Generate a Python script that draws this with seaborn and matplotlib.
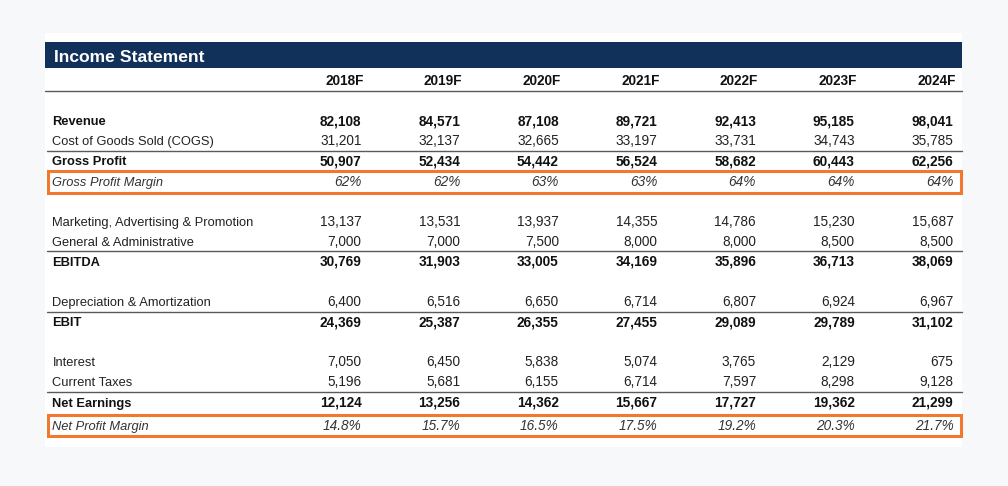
import numpy as np
import pandas as pd
import seaborn as sns
import matplotlib.pyplot as plt
from matplotlib.patches import Rectangle

# ============================================================
# 数据
# ============================================================
years = ["2018F", "2019F", "2020F", "2021F", "2022F", "2023F", "2024F"]

revenue = [82108, 84571, 87108, 89721, 92413, 95185, 98041]
cogs = [31201, 32137, 32665, 33197, 33731, 34743, 35785]
gross_profit = [50907, 52434, 54442, 56524, 58682, 60443, 62256]
gross_margin = [62, 62, 63, 63, 64, 64, 64]
marketing = [13137, 13531, 13937, 14355, 14786, 15230, 15687]
g_and_a = [7000, 7000, 7500, 8000, 8000, 8500, 8500]
ebitda = [30769, 31903, 33005, 34169, 35896, 36713, 38069]
d_and_a = [6400, 6516, 6650, 6714, 6807, 6924, 6967]
ebit = [24369, 25387, 26355, 27455, 29089, 29789, 31102]
interest = [7050, 6450, 5838, 5074, 3765, 2129, 675]
taxes = [5196, 5681, 6155, 6714, 7597, 8298, 9128]
net_earnings = [12124, 13256, 14362, 15667, 17727, 19362, 21299]
net_margin = [14.8, 15.7, 16.5, 17.5, 19.2, 20.3, 21.7]

# (行名, 数值, 样式, 上方是否画线);  None = 空行
rows = [
    ("Revenue", revenue, "bold", False),
    ("Cost of Goods Sold (COGS)", cogs, "normal", False),
    ("Gross Profit", gross_profit, "bold", True),
    ("Gross Profit Margin", gross_margin, "pct0", False),
    None,
    ("Marketing, Advertising & Promotion", marketing, "normal", False),
    ("General & Administrative", g_and_a, "normal", False),
    ("EBITDA", ebitda, "bold", True),
    None,
    ("Depreciation & Amortization", d_and_a, "normal", False),
    ("EBIT", ebit, "bold", True),
    None,
    ("Interest", interest, "normal", False),
    ("Current Taxes", taxes, "normal", False),
    ("Net Earnings", net_earnings, "bold", True),
    ("Net Profit Margin", net_margin, "pct1", False),
]

# ============================================================
# 样式 / 布局
# ============================================================
sns.set_theme(style="white")
plt.rcParams["font.family"] = ["Liberation Sans", "DejaVu Sans"]

BG = "#f7f8fa"
NAVY = "#11305a"
ORANGE = "#f0792f"
LINE = "#5a5a5a"
FS_LABEL = 9.3
FS_NUM = 9.8
BASE = 4.6  # 行中心 -> 文字基线 的偏移 (px)

CARD_L, CARD_R = 45, 962
LABEL_X = 52.5
COL_R0, COL_STEP = 361.5, 98.65
ROW_Y0, ROW_STEP = 120.5, 20.1


def col_x(i):
    return COL_R0 + COL_STEP * i


def fmt(v, style):
    if style == "pct0":
        return f"{v:.0f}%"
    if style == "pct1":
        return f"{v:.1f}%"
    return f"{v:,.0f}"


fig = plt.figure(figsize=(10.08, 4.86), dpi=100, facecolor=BG)
ax = fig.add_axes([0, 0, 1, 1])
ax.set_xlim(0, 1008)
ax.set_ylim(486, 0)
ax.set_facecolor(BG)
ax.axis("off")

# 白色卡片 + 标题栏
ax.add_patch(Rectangle((CARD_L, 33), CARD_R - CARD_L, 414, facecolor="white", edgecolor="none"))
ax.add_patch(Rectangle((CARD_L, 42), CARD_R - CARD_L, 26, facecolor=NAVY, edgecolor="none"))
ax.text(LABEL_X + 1, 62.5, "Income Statement", color="white", fontsize=12.6,
        fontweight="bold", va="baseline", ha="left")

# 年份表头
for i, yr in enumerate(years):
    ax.text(col_x(i) + 2, 80.5 + BASE, yr, fontsize=FS_NUM, fontweight="bold", ha="right",
            va="baseline", color="#111111")
ax.plot([CARD_L, CARD_R], [90.7, 90.7], color=LINE, lw=1.0)

# 表体
for r, row in enumerate(rows):
    if row is None:
        continue
    label, values, style, line_above = row
    y = ROW_Y0 + ROW_STEP * r
    if style.startswith("pct"):
        y += 0.5 if style == "pct0" else 3.0
        kw = dict(fontstyle="italic", color="#333333")
    elif style == "bold":
        kw = dict(fontweight="bold", color="#111111")
    else:
        kw = dict(color="#222222")

    if line_above:
        ax.plot([CARD_L + 2, CARD_R], [y - 10, y - 10], color=LINE, lw=1.0)

    ax.text(LABEL_X, y + BASE, label, fontsize=FS_LABEL, ha="left", va="baseline", **kw)
    for i, v in enumerate(values):
        ax.text(col_x(i), y + BASE, fmt(v, style), fontsize=FS_NUM, ha="right",
                va="baseline", **kw)

    if style.startswith("pct"):
        ax.add_patch(Rectangle((CARD_L + 3, y - 10.3), CARD_R - CARD_L - 4.5, 21.5,
                               facecolor="none", edgecolor=ORANGE, lw=2.2))

fig.savefig("out.png", dpi=100, facecolor=BG)
